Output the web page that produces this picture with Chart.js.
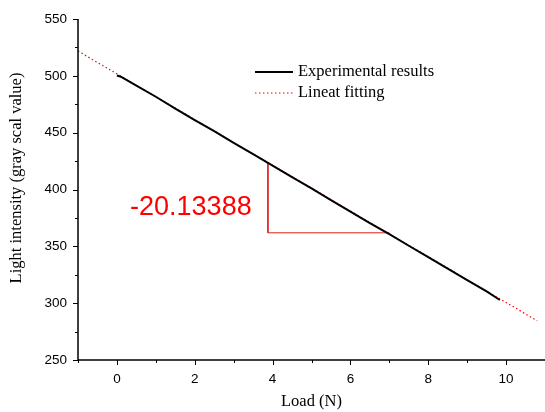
<!DOCTYPE html>
<html>
<head>
<meta charset="utf-8">
<script src="https://cdn.jsdelivr.net/npm/chart.js@4/dist/chart.umd.min.js"></script>
<style>
  html, body { margin: 0; padding: 0; background: #fff; }
  #wrap { width: 545px; height: 412px; }
</style>
</head>
<body>
<div id="wrap"><canvas id="chart" width="545" height="412"></canvas></div>
<script>
// experimental curve (load in N, gray value)
const loads = [0, 0.1, 0.5, 1, 1.5, 2, 2.5, 3, 3.5, 4, 4.5, 5, 5.5, 6, 6.5, 7, 7.5, 8, 8.5, 9, 9.5, 9.84];
const intensity = [500.3, 499.2, 491.3, 481.6, 471.2, 461.0, 451.3, 441.0, 431.2, 421.0, 410.8, 400.9,
                   390.7, 380.6, 370.5, 360.7, 350.5, 340.5, 330.4, 320.2, 310.3, 302.8];

// linear fit line ends
const fitLoads = [-1, 10.8];
const fitValues = [521.8, 284.5];

// slope triangle
const triLoads = [3.88, 3.88, 7.0];
const triValues = [423.4, 361.9, 361.9];
const slopeText = '-20.13388';
const slopePos = [1.9, 384.5];

const xTicks = [0, 2, 4, 6, 8, 10];
const yTicks = [250, 300, 350, 400, 450, 500, 550];
const yTitle = 'Light intensity (gray scal value)';

const serif = '"Liberation Serif", "Times New Roman", serif';
const sans = '"Liberation Sans", Arial, sans-serif';

function pts(xs, ys) { return xs.map((x, i) => ({ x: x, y: ys[i] })); }

const axesPlugin = {
  id: 'axesPlugin',
  afterDraw(chart) {
    const c = chart.ctx, a = chart.chartArea;
    const xs = chart.scales.x, ys = chart.scales.y;
    c.save();
    c.strokeStyle = '#000';
    c.lineWidth = 1.5;
    c.beginPath();
    c.moveTo(a.left, a.top);
    c.lineTo(a.left, a.bottom);
    c.lineTo(a.right, a.bottom);
    c.stroke();
    c.lineWidth = 1;
    // x ticks, major on even values
    for (let v = -1; v <= 11; v++) {
      const px = Math.round(xs.getPixelForValue(v)) + 0.5;
      const len = v % 2 === 0 ? 5 : 3;
      c.beginPath(); c.moveTo(px, a.bottom); c.lineTo(px, a.bottom + len); c.stroke();
    }
    for (let v = 250; v <= 550; v += 25) {
      const py = Math.round(ys.getPixelForValue(v)) + 0.5;
      const len = v % 50 === 0 ? 5 : 3;
      c.beginPath(); c.moveTo(a.left, py); c.lineTo(a.left - len, py); c.stroke();
    }
    // y title, sits a bit above the middle like the original
    c.save();
    c.translate(17, 178);
    c.rotate(-Math.PI / 2);
    c.font = '16.5px ' + serif;
    c.fillStyle = '#000';
    c.textAlign = 'center';
    c.textBaseline = 'middle';
    c.fillText(yTitle, 0, 0);
    c.restore();
    // slope label
    c.fillStyle = '#ff0000';
    c.font = '27px ' + sans;
    c.textAlign = 'center';
    c.textBaseline = 'middle';
    c.fillText(slopeText, xs.getPixelForValue(slopePos[0]), ys.getPixelForValue(slopePos[1]));
    // legend
    const ds = chart.data.datasets;
    c.font = '16.5px ' + serif;
    c.textAlign = 'left';
    [0, 1].forEach((k, i) => {
      const y = 72 + i * 21;
      c.strokeStyle = ds[k].borderColor;
      c.lineWidth = ds[k].borderWidth;
      c.setLineDash(ds[k].borderDash || []);
      c.beginPath(); c.moveTo(255, y); c.lineTo(293, y); c.stroke();
      c.setLineDash([]);
      c.fillStyle = '#000';
      c.fillText(ds[k].label, 298, y);
    });
    c.restore();
  }
};

new Chart(document.getElementById('chart'), {
  type: 'scatter',
  data: {
    datasets: [
      { label: 'Experimental results', data: pts(loads, intensity), showLine: true,
        borderColor: '#000', borderWidth: 2, pointRadius: 0, tension: 0 },
      { label: 'Lineat fitting', data: pts(fitLoads, fitValues), showLine: true,
        borderColor: '#ff0000', borderWidth: 1.2, borderDash: [1.5, 2.5], pointRadius: 0 },
      { label: 'slope', data: pts(triLoads, triValues), showLine: true,
        borderColor: '#e02020', borderWidth: 1, pointRadius: 0 }
    ]
  },
  options: {
    responsive: false,
    animation: false,
    layout: { padding: { top: 19, right: 0, left: 0, bottom: 0 } },
    plugins: { legend: { display: false }, tooltip: { enabled: false } },
    scales: {
      x: {
        type: 'linear', min: -1, max: 11,
        afterBuildTicks: s => { s.ticks = xTicks.map(v => ({ value: v })); },
        afterFit: s => { s.height = 52; },
        grid: { display: false },
        border: { display: false },
        ticks: { color: '#000', font: { family: sans, size: 13.5 }, padding: 3, maxRotation: 0 },
        title: { display: true, text: 'Load (N)', color: '#000', font: { family: serif, size: 16.5 }, padding: { top: 0, bottom: 0 } }
      },
      y: {
        type: 'linear', min: 250, max: 550,
        afterBuildTicks: s => { s.ticks = yTicks.map(v => ({ value: v })); },
        afterFit: s => { s.width = 78; },
        grid: { display: false },
        border: { display: false },
        ticks: { color: '#000', font: { family: sans, size: 13.5 }, padding: 3 }
      }
    }
  },
  plugins: [axesPlugin]
});
</script>
</body>
</html>
